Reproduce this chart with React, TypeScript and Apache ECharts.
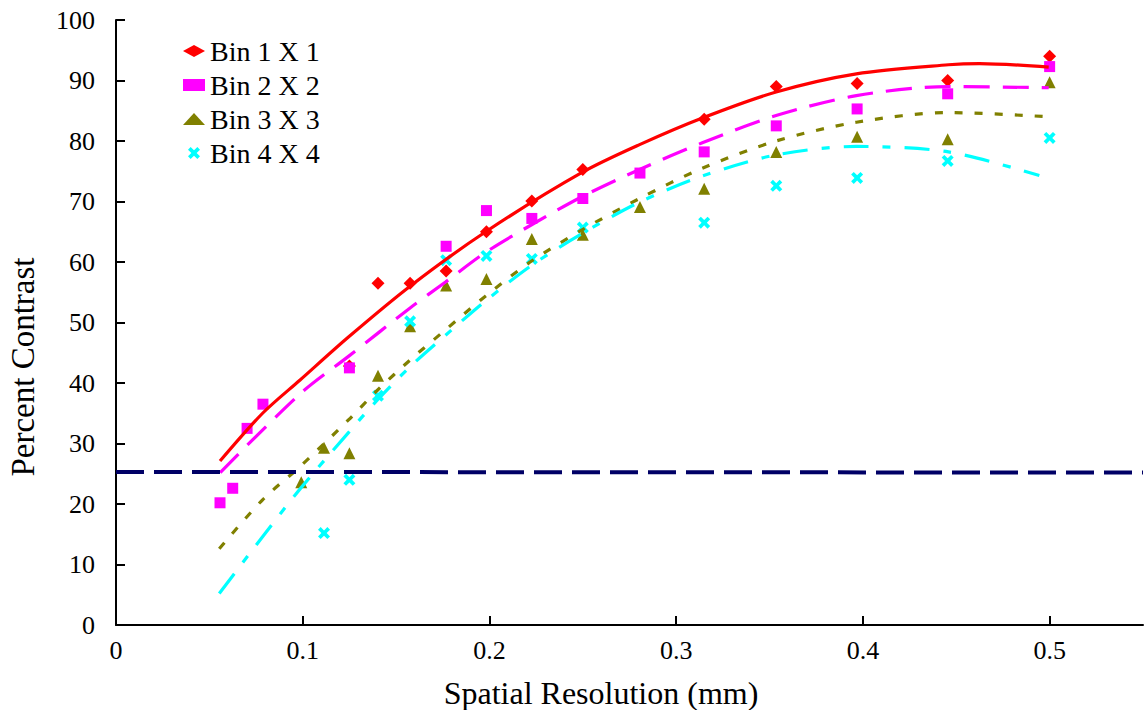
import React, { useEffect, useRef } from "react";
import * as echarts from "echarts";

// Measured data points (x: spatial resolution in mm, y: percent contrast)
const bin1X = [0.125, 0.1403, 0.1575, 0.1768, 0.1984, 0.2227, 0.25, 0.315, 0.3536, 0.3969, 0.4454, 0.5];
const bin1Y = [42.8, 56.5, 56.5, 58.5, 65.0, 70.1, 75.3, 83.6, 89.0, 89.5, 90.0, 94.0];

const bin2X = [0.0557, 0.0625, 0.0702, 0.0787, 0.125, 0.1768, 0.1984, 0.2227, 0.25, 0.2806, 0.315, 0.3536, 0.3969, 0.4454, 0.5];
const bin2Y = [20.2, 22.6, 32.5, 36.5, 42.5, 62.6, 68.5, 67.2, 70.5, 74.7, 78.2, 82.5, 85.3, 87.8, 92.3];

const bin3X = [0.0992, 0.1114, 0.125, 0.1403, 0.1575, 0.1768, 0.1984, 0.2227, 0.25, 0.2806, 0.315, 0.3536, 0.3969, 0.4454, 0.5];
const bin3Y = [23.6, 29.3, 28.4, 41.2, 49.4, 56.1, 57.2, 63.8, 64.5, 69.1, 72.1, 78.2, 80.7, 80.3, 89.7];

const bin4X = [0.1114, 0.125, 0.1403, 0.1575, 0.1768, 0.1984, 0.2227, 0.25, 0.315, 0.3536, 0.3969, 0.4454, 0.5];
const bin4Y = [15.2, 24.0, 37.9, 50.2, 60.3, 61.0, 60.5, 65.7, 66.5, 72.6, 73.9, 76.7, 80.5];

// Trend curves
const fit1X = [0.0557, 0.0785, 0.0986, 0.1245, 0.1575, 0.198, 0.2496, 0.2804, 0.314, 0.3535, 0.3965, 0.4458, 0.4624, 0.4995];
const fit1Y = [27.1, 35.0, 40.5, 47.6, 56.0, 65.0, 74.8, 79.4, 83.8, 88.1, 91.1, 92.6, 92.8, 92.2];

const fit2X = [0.0558, 0.0986, 0.1245, 0.1575, 0.1765, 0.198, 0.2228, 0.2496, 0.2804, 0.314, 0.3535, 0.3965, 0.4458, 0.4995];
const fit2Y = [25.2, 38.2, 44.4, 52.4, 56.7, 61.6, 66.2, 70.8, 75.3, 79.7, 84.2, 87.5, 89.0, 88.8];

const fit3X = [0.0553, 0.0785, 0.0986, 0.1245, 0.14, 0.1575, 0.1765, 0.198, 0.2228, 0.2496, 0.2804, 0.314, 0.3535, 0.3965, 0.4458, 0.4995];
const fit3Y = [12.6, 20.7, 26.2, 33.9, 38.8, 43.8, 48.8, 54.4, 60.2, 65.3, 70.5, 75.5, 80.0, 83.1, 84.7, 84.0];

const fit4X = [0.0553, 0.0785, 0.0986, 0.1245, 0.14, 0.1575, 0.1765, 0.198, 0.2228, 0.2496, 0.2804, 0.314, 0.3535, 0.3965, 0.4458, 0.4945];
const fit4Y = [5.2, 14.6, 22.5, 31.8, 37.2, 42.7, 47.9, 53.6, 59.5, 64.7, 69.9, 74.2, 77.7, 79.1, 78.2, 74.3];

// Threshold line
const thresholdX = [0, 0.55];
const thresholdY = [25.3, 25.2];

const seriesNames = ["Bin 1 X 1", "Bin 2 X 2", "Bin 3 X 3", "Bin 4 X 4"];
const xTicks = [0, 0.1, 0.2, 0.3, 0.4, 0.5];

const zip = (xs: number[], ys: number[]) => xs.map((x, i) => [x, ys[i]]);

const FONT = "Liberation Serif";
const CROSS = "path://M0,2.2L2.2,0L5,2.8L7.8,0L10,2.2L7.2,5L10,7.8L7.8,10L5,7.2L2.2,10L0,7.8L2.8,5Z";

export default function App() {
  const ref = useRef<HTMLDivElement>(null);

  useEffect(() => {
    if (!ref.current) return;
    const chart = echarts.init(ref.current, undefined, { renderer: "svg" });

    const fitLine = (data: number[][], color: string, type: any) => ({
      type: "line",
      data,
      smooth: 0.3,
      showSymbol: false,
      symbol: "none",
      silent: true,
      lineStyle: { color, width: 3.2, type },
      z: 3,
    });

    chart.setOption({
      animation: false,
      backgroundColor: "#fff",
      grid: { left: 116, right: 4, top: 20, bottom: 85, containLabel: false },
      legend: {
        data: seriesNames,
        orient: "vertical",
        left: 178,
        top: 32,
        itemWidth: 22,
        itemHeight: 12,
        itemGap: 6,
        symbolKeepAspect: true,
        textStyle: { fontFamily: FONT, fontSize: 28, color: "#000" },
      },
      xAxis: {
        type: "value",
        min: 0,
        max: 0.55,
        interval: 0.1,
        axisLine: { onZero: false, lineStyle: { color: "#000", width: 2 } },
        axisTick: { inside: true, length: 9, lineStyle: { color: "#000", width: 2 }, customValues: xTicks },
        axisLabel: {
          fontFamily: FONT,
          fontSize: 26,
          color: "#000",
          margin: 12,
          customValues: xTicks,
          formatter: (v: number) => String(v),
        },
        splitLine: { show: false },
      },
      yAxis: {
        type: "value",
        min: 0,
        max: 100,
        interval: 10,
        axisLine: { show: true, onZero: false, lineStyle: { color: "#000", width: 2 } },
        axisTick: { show: true, inside: true, length: 9, lineStyle: { color: "#000", width: 2 } },
        axisLabel: { fontFamily: FONT, fontSize: 26, color: "#000", margin: 21 },
        splitLine: { show: false },
      },
      graphic: [
        {
          type: "text",
          x: 601,
          y: 693,
          style: {
            text: "Spatial Resolution (mm)",
            font: `32px ${FONT}`,
            fill: "#000",
            align: "center",
            verticalAlign: "middle",
          },
        },
        {
          type: "text",
          x: 23,
          y: 367,
          rotation: Math.PI / 2,
          style: {
            text: "Percent Contrast",
            font: `33px ${FONT}`,
            fill: "#000",
            align: "center",
            verticalAlign: "middle",
          },
        },
      ],
      series: [
        {
          name: seriesNames[0],
          type: "scatter",
          data: zip(bin1X, bin1Y),
          symbol: "diamond",
          symbolSize: 13,
          itemStyle: { color: "#ff0000", opacity: 1 },
          z: 2,
        },
        {
          name: seriesNames[1],
          type: "scatter",
          data: zip(bin2X, bin2Y),
          symbol: "rect",
          symbolSize: 11,
          itemStyle: { color: "#ff00ff", opacity: 1 },
          z: 2,
        },
        {
          name: seriesNames[2],
          type: "scatter",
          data: zip(bin3X, bin3Y),
          symbol: "triangle",
          symbolSize: 12,
          itemStyle: { color: "#808000", opacity: 1 },
          z: 2,
        },
        {
          name: seriesNames[3],
          type: "scatter",
          data: zip(bin4X, bin4Y),
          symbol: CROSS,
          symbolSize: 12,
          itemStyle: { color: "#00ffff", opacity: 1 },
          z: 2,
        },
        fitLine(zip(fit1X, fit1Y), "#ff0000", "solid"),
        fitLine(zip(fit2X, fit2Y), "#ff00ff", [26, 13]),
        fitLine(zip(fit3X, fit3Y), "#808000", [8, 12]),
        fitLine(zip(fit4X, fit4Y), "#00ffff", [25, 14, 8, 14]),
        {
          type: "line",
          data: zip(thresholdX, thresholdY),
          showSymbol: false,
          symbol: "none",
          silent: true,
          lineStyle: { color: "#000066", width: 4, type: [28, 10] },
          z: 4,
        },
      ],
    });

    return () => chart.dispose();
  }, []);

  return (
    <div
      ref={ref}
      style={{ position: "fixed", left: 0, top: 0, width: 1147, height: 710, background: "#fff" }}
    />
  );
}
